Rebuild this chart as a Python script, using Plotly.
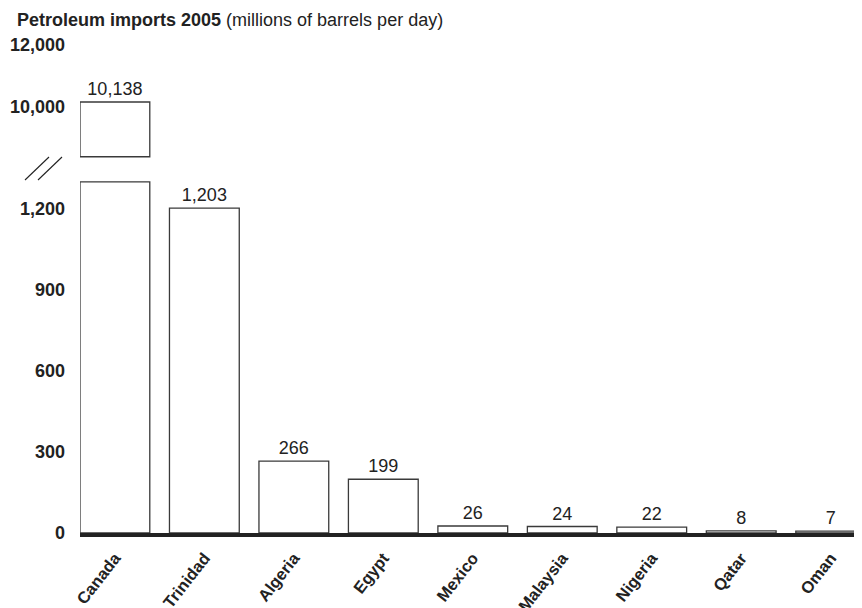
import plotly.graph_objects as go

countries = ["Canada", "Trinidad", "Algeria", "Egypt", "Mexico", "Malaysia", "Nigeria", "Qatar", "Oman"]
imports = [10138, 1203, 266, 199, 26, 24, 22, 8, 7]
low_ticks = [0, 300, 600, 900, 1200]
high_ticks = [10000, 12000]

LOW_TOP = 1300      # where the lower section is cut
LOW_RANGE = [0, 1311]
UP_BASE = 8350      # where the upper section starts
UP_RANGE = [8276, 12000]

FONT = "Liberation Sans, Arial, Helvetica, sans-serif"
INK = "#222222"
EDGE = "#3a3a3a"

# page body has an 8px margin: figure coordinates = page coordinates - 8
OFF = 8
W, H = 862 - OFF, 608 - OFF
PL, PR, PT, PB = 80 - OFF, 862 - OFF, 45 - OFF, 533 - OFF   # plot area in figure px
PW, PH = PR - PL, PB - PT

fmt = lambda v: f"{v:,}"

low_vals = [min(v, LOW_TOP) for v in imports]
low_text = [fmt(v) if v <= LOW_TOP else "" for v in imports]
hi_x = [c for c, v in zip(countries, imports) if v > UP_BASE]
hi_vals = [v - UP_BASE for v in imports if v > UP_BASE]
hi_text = [fmt(v) for v in imports if v > UP_BASE]

valfont = dict(size=18, color=INK, family=FONT)

fig = go.Figure()
fig.add_trace(go.Bar(
    x=countries, y=low_vals, text=low_text, textposition="outside",
    cliponaxis=False, textfont=valfont,
    marker=dict(color="white", line=dict(color=EDGE, width=1.3)),
    xaxis="x", yaxis="y", showlegend=False, hoverinfo="skip",
))
fig.add_trace(go.Bar(
    x=hi_x, y=hi_vals, base=UP_BASE, text=hi_text, textposition="outside",
    cliponaxis=False, textfont=valfont,
    marker=dict(color="white", line=dict(color=EDGE, width=1.3)),
    xaxis="x2", yaxis="y2", showlegend=False, hoverinfo="skip",
))

xcommon = dict(categoryorder="array", categoryarray=countries, range=[-0.39, 8.35],
               automargin=False)
bold18 = dict(size=18, color=INK, family=FONT, weight="bold")

fig.update_layout(
    width=W, height=H,
    margin=dict(l=PL, r=W - PR, t=PT, b=H - PB, autoexpand=False),
    paper_bgcolor="white", plot_bgcolor="white",
    font=dict(family=FONT, color=INK),
    bargap=0.22,
    xaxis=dict(
        **xcommon, anchor="y", showline=True, linewidth=4, linecolor=INK,
        showgrid=False, zeroline=False, tickangle=-52, ticks="",
        ticklabelstandoff=5,
        tickfont=dict(size=16.5, color=INK, family=FONT, weight="bold"),
    ),
    xaxis2=dict(
        **xcommon, anchor="y2", matches="x", showline=False, showgrid=False,
        zeroline=False, showticklabels=False, ticks="",
    ),
    yaxis=dict(
        domain=[0, (PB - 179 + OFF) / PH], range=LOW_RANGE, tickvals=low_ticks,
        tickformat=",", showgrid=False, zeroline=False, showline=False,
        ticks="", ticklabelstandoff=14, automargin=False, tickfont=bold18,
    ),
    yaxis2=dict(
        domain=[(PB - 159 + OFF) / PH, 1.0], range=UP_RANGE, tickvals=high_ticks,
        tickformat=",", showgrid=False, zeroline=False, showline=False,
        ticks="", ticklabelstandoff=14, automargin=False, tickfont=bold18,
    ),
)

def px(xp):   # page x -> paper fraction
    return (xp - OFF - PL) / PW

def py(yp):   # page y -> paper fraction
    return (PB - (yp - OFF)) / PH

fig.add_annotation(
    text="<b>Petroleum imports 2005</b> (millions of barrels per day)",
    xref="paper", yref="paper", x=px(15), y=py(20),
    xanchor="left", yanchor="middle", showarrow=False,
    font=dict(size=18, color=INK, family=FONT),
)

# axis-break marks "//"
for x0 in (25, 38):
    fig.add_shape(type="line", xref="paper", yref="paper",
                  x0=px(x0), y0=py(180), x1=px(x0 + 24), y1=py(157),
                  line=dict(color=INK, width=1.1))

fig.write_html("out.html")
